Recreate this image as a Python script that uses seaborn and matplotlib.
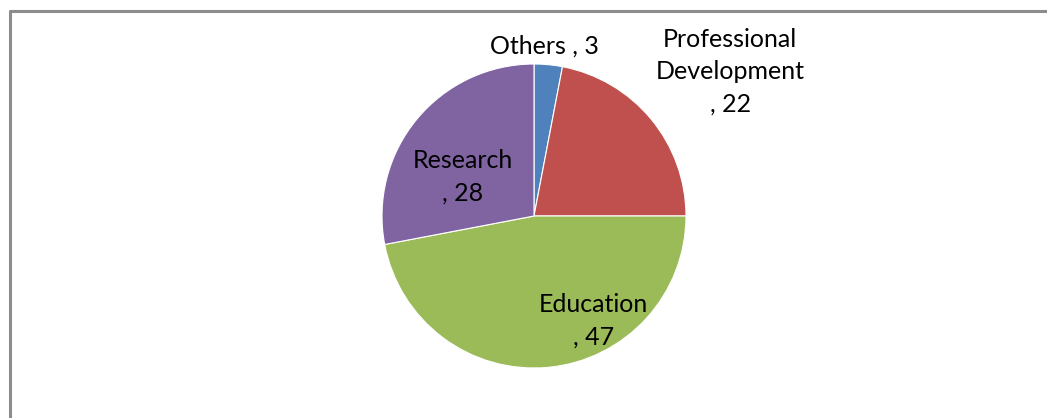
import matplotlib
matplotlib.use("Agg")
import matplotlib.pyplot as plt
from matplotlib.lines import Line2D
import seaborn as sns

# data
categories = ["Others", "Professional\nDevelopment", "Education", "Research"]
values = [3, 22, 47, 28]
colors = ["#4F81BD", "#C0504D", "#9BBB59", "#8064A2"]
# value separator: Others sits on one line, the rest wrap
separators = [" , ", "\n, ", "\n, ", "\n, "]
# label placement in units of pie radius (Excel "best fit" spots)
label_pos = [(0.07, 1.12), (1.29, 0.95), (0.39, -0.69), (-0.47, 0.26)]

sns.set_theme(style="white")
plt.rcParams['font.family'] = ['Lato', 'DejaVu Sans']

W, H = 1047, 418
cx, cy, r = 534, 216, 152

fig = plt.figure(figsize=(W / 100, H / 100), dpi=100)
ax = fig.add_axes([0, 0, 1, 1])
ax.pie(values, colors=sns.color_palette(colors), startangle=90, counterclock=False,
       wedgeprops=dict(edgecolor="white", linewidth=0.8))

for name, v, sep, (x, y) in zip(categories, values, separators, label_pos):
    ax.text(x, y, "%s%s%d" % (name, sep, v), ha="center", va="center",
            fontsize=18, color="black", linespacing=1.5)

ax.set_aspect("auto")
ax.set_xlim(-cx / r, (W - cx) / r)
ax.set_ylim(-(H - cy) / r, cy / r)
ax.axis("off")

# chart-area frame (only top and left edges visible)
fig.add_artist(Line2D([10 / W, 1], [1 - 11 / H, 1 - 11 / H], color="#8C8C8C", lw=2.2))
fig.add_artist(Line2D([10 / W, 10 / W], [0, 1 - 11 / H], color="#8C8C8C", lw=2.2))

plt.savefig("out.png", dpi=100)
